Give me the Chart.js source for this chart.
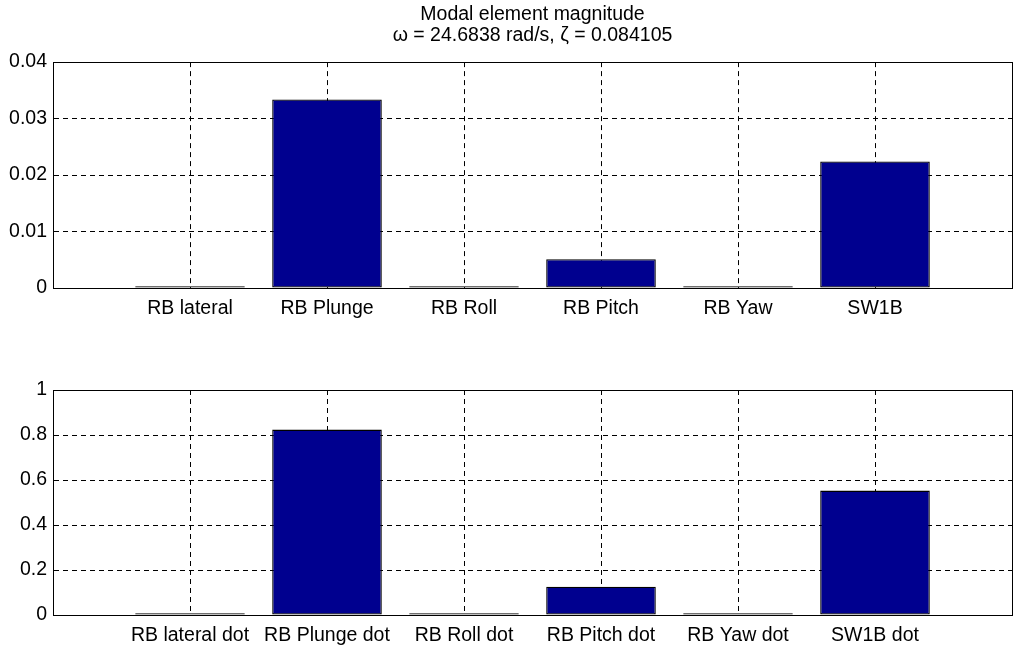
<!DOCTYPE html>
<html>
<head>
<meta charset="utf-8">
<script src="https://cdn.jsdelivr.net/npm/chart.js@4"></script>
<style>
  html, body { margin: 0; padding: 0; background: #fff; }
  .panel { position: absolute; left: 0; width: 1021px; }
  #topBox { top: 0; height: 330px; }
  #bottomBox { top: 330px; height: 316px; }
</style>
</head>
<body>
<div id="topBox" class="panel"><canvas id="topChart"></canvas></div>
<div id="bottomBox" class="panel"><canvas id="bottomChart"></canvas></div>
<script>
// Modal element magnitudes: displacement states (top) and their rates (bottom)
const titleLines = ['Modal element magnitude', 'ω = 24.6838 rad/s, ζ = 0.084105'];

const stateLabels = ['RB lateral', 'RB Plunge', 'RB Roll', 'RB Pitch', 'RB Yaw', 'SW1B'];
const stateValues = [0.0003, 0.0334, 0.0003, 0.0051, 0.0003, 0.0224];
const stateTicks = [0, 0.01, 0.02, 0.03, 0.04];
const stateTickLabels = ['0', '0.01', '0.02', '0.03', '0.04'];

const rateLabels = ['RB lateral dot', 'RB Plunge dot', 'RB Roll dot', 'RB Pitch dot', 'RB Yaw dot', 'SW1B dot'];
const rateValues = [0.0075, 0.824, 0.0075, 0.126, 0.0075, 0.553];
const rateTicks = [0, 0.2, 0.4, 0.6, 0.8, 1];
const rateTickLabels = ['0', '0.2', '0.4', '0.6', '0.8', '1'];

const xTickPositions = [0, 1, 2, 3, 4, 5, 6, 7];

Chart.defaults.font.family = '"Liberation Sans", Arial, sans-serif';
Chart.defaults.font.size = 19.5;
Chart.defaults.color = '#000';
Chart.defaults.animation = false;

// Full box around the axes, as in a framed plot
const frameBox = {
  id: 'frameBox',
  afterDraw(chart) {
    const { ctx, chartArea: a } = chart;
    ctx.save();
    ctx.strokeStyle = '#000';
    ctx.lineWidth = 1;
    ctx.strokeRect(Math.round(a.left) + 0.5, Math.round(a.top) + 0.5,
                   Math.round(a.right - a.left), Math.round(a.bottom - a.top));
    ctx.restore();
  }
};

function makeChart(id, labels, values, ticks, tickLabels, opts) {
  const yMax = ticks[ticks.length - 1];
  return new Chart(document.getElementById(id), {
    type: 'bar',
    data: {
      datasets: [{
        data: values.map((v, i) => ({ x: i + 1, y: v })),
        backgroundColor: '#00008f',
        borderColor: '#000',
        borderWidth: 1.3,
        borderSkipped: false,
        inflateAmount: 0,
        barPercentage: 0.8,
        categoryPercentage: 1.0
      }]
    },
    options: {
      responsive: true,
      maintainAspectRatio: false,
      layout: { padding: { left: 0, right: 2, top: opts.padTop, bottom: 0 } },
      plugins: {
        legend: { display: false },
        tooltip: { enabled: false },
        title: opts.title ? {
          display: true,
          text: opts.title,
          fullSize: false,
          font: { size: 19.5, weight: 'normal', lineHeight: 1.08 },
          color: '#000',
          padding: { top: 4, bottom: 16 }
        } : { display: false }
      },
      scales: {
        x: {
          type: 'linear',
          min: 0,
          max: 7,
          offset: false,
          afterBuildTicks: s => { s.ticks = xTickPositions.map(v => ({ value: v })); },
          afterFit: s => { s.height = opts.xHeight; },
          ticks: {
            autoSkip: false,
            maxRotation: 0,
            padding: 9,
            callback: v => labels[v - 1] || ''
          },
          grid: { offset: false, color: '#000', lineWidth: 1, drawTicks: false, tickLength: 0 },
          border: { display: true, color: '#000', width: 1, dash: [5, 4] }
        },
        y: {
          min: 0,
          max: yMax,
          afterBuildTicks: s => { s.ticks = ticks.map(v => ({ value: v })); },
          afterFit: s => { s.width = 53; },
          ticks: {
            padding: 6,
            callback: (v, i) => tickLabels[i]
          },
          grid: { color: '#000', lineWidth: 1, drawTicks: false, tickLength: 0 },
          border: { display: true, color: '#000', width: 1, dash: [5, 4] }
        }
      }
    },
    plugins: [frameBox]
  });
}

makeChart('topChart', stateLabels, stateValues, stateTicks, stateTickLabels,
  { title: titleLines, padTop: 0, xHeight: 42 });
makeChart('bottomChart', rateLabels, rateValues, rateTicks, rateTickLabels,
  { title: null, padTop: 60, xHeight: 31 });
</script>
</body>
</html>
